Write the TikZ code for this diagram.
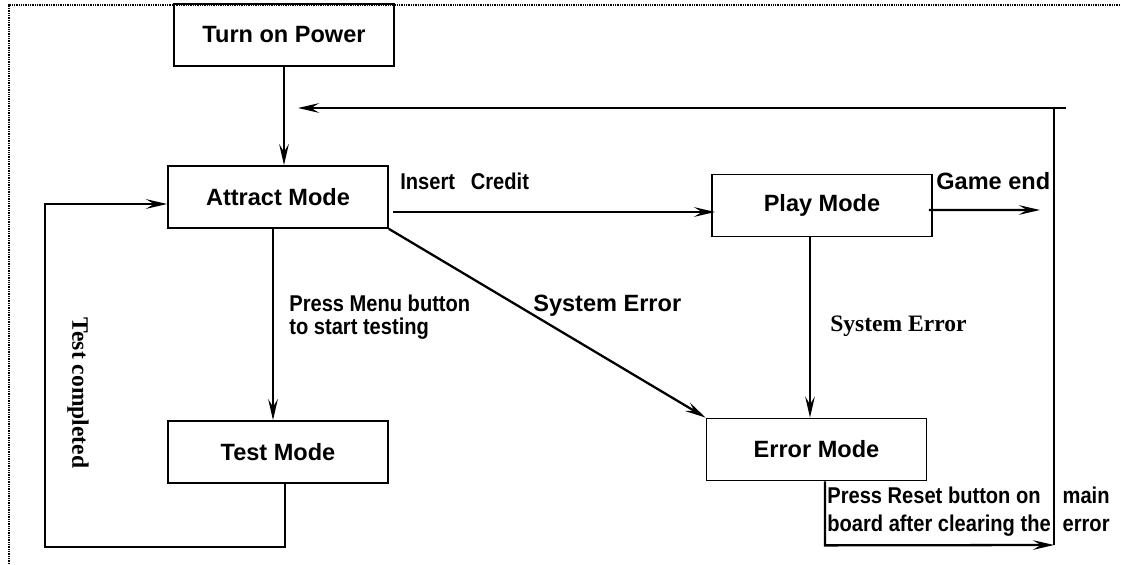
\documentclass[tikz,border=0pt]{standalone}
\usepackage{fontspec}
\setmainfont{Liberation Sans}
\newfontfamily\serifb{Liberation Serif}
\newfontfamily\narrowsans{Liberation Sans}[FakeStretch = 0.88]
\usetikzlibrary{arrows.meta, positioning, calc}
\tikzset{>={Stealth[length=12pt, width=5.5pt, inset=4.5pt]}}
\newcommand{\bigtxt}{\fontsize{13.4}{16}\selectfont\bfseries}
\newcommand{\smalltxt}{\narrowsans\fontsize{13}{13.6}\selectfont\bfseries}
\newcommand{\resettxt}{\narrowsans\fontsize{13}{16}\selectfont\bfseries}
\tikzset{modebox/.style = {draw, line width = 1pt, minimum width = 4.4cm, minimum height = 1.24cm, inner sep = 0pt, font = \bigtxt}}
\tikzset{flow/.style = {line width = 1.3pt}}
\tikzset{lbl/.style = {anchor = base west, inner sep = 0pt}}

\begin{document}
\begin{tikzpicture}[x = 0.02cm, y = -0.02cm]
\useasboundingbox (0, 0) rectangle (1121, 564);
% dotted frame
\draw[line width = 0.9pt, dash pattern = on 0.5pt off 0.5pt] (9, 564) -- (9, 5) -- (1121, 5);

% modes
\node[modebox] (power) at (284, 35) {Turn on Power};
\node[modebox] (attract) at (278, 197) {Attract Mode};
\node[modebox] (play) at (822, 205.5) {Play Mode};
\node[modebox] (test) at (278, 452) {Test Mode};
\node[modebox] (error) at (816.5, 449.5) {Error Mode};

% free ends of the loops
\coordinate (gameend) at (1040, 210);
\coordinate (backtop) at (1066, 108);
\coordinate (backarrow) at (298, 108);
\coordinate (backbot) at (1054, 545);

% transitions
\draw[flow, ->] (power.south) -- (power.south |- attract.north);
\draw[flow, ->] ([shift = {(4, 15)}]attract.east) -- ([shift = {(4, 15)}]attract.east -| play.west);
\draw[flow, ->] ([shift = {(-4, 4.5)}]play.east) -- (gameend);
\draw[flow, ->] (attract.south east) -- (error.north west);
\draw[flow, ->] ([shift = {(-12, 0)}]play.south) -- ([shift = {(-12, 0)}]play.south |- error.north);
\draw[flow, ->] ([shift = {(-5, 0)}]attract.south) -- ([shift = {(-5, 0)}]attract.south |- test.north);
\draw[flow, ->] ([shift = {(7, 0)}]test.south) -- ++(0, 63) -| (45, 204) -- ([shift = {(0, 7)}]attract.west);
\draw[flow, ->] ([shift = {(8.5, 0)}]error.south) -- ++(0, 64) -- (backbot);
\draw[flow] (backbot) -- (backbot |- backtop);
\draw[flow, ->] (backtop) -- (backarrow);

% labels
\node[lbl, font = \smalltxt] (creditlbl) at (400, 190) {Insert\hspace{9pt}Credit};
\node[lbl, font = \bigtxt] (gameendlbl) at (936, 190) {Game end};
\node[lbl, font = \smalltxt] (menulbl) at (289, 311) {\begin{tabular}[t]{@{}l@{}}Press Menu button\\to start testing\end{tabular}};
\node[lbl, font = \bigtxt] (syserrlbl) at (533, 311) {System Error};
\node[lbl, font = \serifb\bigtxt] (playerrlbl) at (830, 331) {System Error};
\node[rotate = -90, font = \serifb\bigtxt] (testdonelbl) at (78, 393) {Test completed};
\node[lbl, font = \resettxt] (resetlbl) at (827, 503) {\setlength{\tabcolsep}{3.4pt}\begin{tabular}[t]{@{}lr@{}}Press Reset button on & main\\board after clearing the & error\end{tabular}};
\end{tikzpicture}
\end{document}
